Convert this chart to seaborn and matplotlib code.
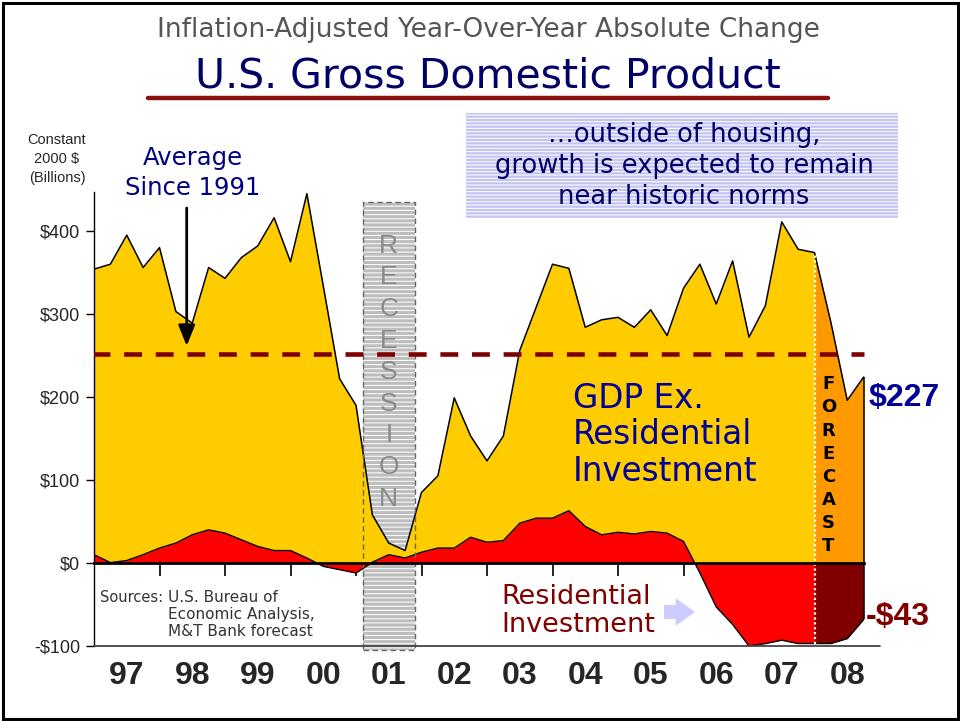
import numpy as np
import matplotlib
matplotlib.use("Agg")
import matplotlib.pyplot as plt
import matplotlib.transforms as mtransforms
from matplotlib.patches import Rectangle
import seaborn as sns

# quarterly values, 1997Q1 .. 2008Q4 (billions of 2000 $)
gdp_ex_ri = [354, 360, 395, 356, 380, 303, 289, 356,
             343, 368, 382, 416, 363, 445, 334, 222,
             190, 58, 24, 15, 85, 105, 199, 153,
             123, 153, 256, 308, 360, 355, 284, 293,
             296, 284, 305, 274, 331, 360, 312, 364,
             272, 310, 411, 378, 374, 290, 196, 224]
res_inv = [10, 0.5, 3, 10, 18, 24, 34, 40,
           36, 28, 20, 15, 15, 6, -4, -8,
           -12, 1, 10, 6, 13, 18, 18, 31,
           25, 27, 48, 54, 54, 63, 44, 34,
           37, 35, 38, 36, 26, -12, -53, -74,
           -100, -97, -93, -97, -97, -97, -91, -68]
years = ['97', '98', '99', '00', '01', '02', '03', '04', '05', '06', '07', '08']
y_ticks = [-100, 0, 100, 200, 300, 400]
y_labels = ['-$100', '$0', '$100', '$200', '$300', '$400']
avg_since_1991 = 252
forecast_start = 44          # 2008Q1
recession = (16.4, 19.6)     # Mar-Nov 2001, in quarters from 1997Q1
end_labels = ['$227', '-$43']

W, H = 960, 721
sns.set_theme(style='white')
plt.rcParams['font.family'] = ['DejaVu Sans']
plt.rcParams['hatch.linewidth'] = 0.75

fig = plt.figure(figsize=(W / 100, H / 100), dpi=100)
ax = fig.add_axes([94 / W, 1 - 646 / H, 786 / W, 454 / H])

q = np.arange(len(gdp_ex_ri))
gdp = np.array(gdp_ex_ri, dtype=float)
ri = np.array(res_inv, dtype=float)
hist = q <= forecast_start
fcst = q >= forecast_start

# recession band (fill behind the areas, dashed frame on top)
rx0, rx1 = recession
ax.add_patch(Rectangle((rx0, -105), rx1 - rx0, 540, facecolor='#BDBDBD',
                       edgecolor='white', hatch='----', lw=0, zorder=0.5,
                       clip_on=False))
ax.add_patch(Rectangle((rx0, -105), rx1 - rx0, 540, fill=False,
                       edgecolor='#666666', linestyle=(0, (4, 2.5)), lw=1,
                       zorder=3, clip_on=False))
ax.text((rx0 + rx1) / 2, 230, '\n'.join('RECESSION'), ha='center', va='center',
        fontsize=19, color='#8a8a8a', family='Liberation Sans',
        linespacing=1.4, zorder=3)

# areas
ax.fill_between(q, 0, gdp, where=hist, color='#FFCC00', lw=0, zorder=1)
ax.fill_between(q, 0, gdp, where=fcst, color='#FF9900', lw=0, zorder=1)
ax.fill_between(q, 0, ri, where=hist, color='#FF0000', lw=0, zorder=2)
ax.fill_between(q, 0, ri, where=fcst, color='#800000', lw=0, zorder=2)
sns.lineplot(x=q, y=gdp, ax=ax, color='black', lw=1.1, zorder=2.5)
sns.lineplot(x=q, y=ri, ax=ax, color='black', lw=1.0, zorder=2.5)
ax.vlines(q[-1], ri[-1], gdp[-1], colors='black', lw=1.1, zorder=2.5)
ax.vlines(forecast_start, ri[forecast_start], gdp[forecast_start], colors='white',
          linestyles=(0, (1, 1.2)), lw=1.6, zorder=2.6)

# average line
avg = ax.hlines(avg_since_1991, q[0] - 0.1, q[-1], colors='#800000', lw=3.3, zorder=4)
avg.set_linestyle((0, (3.9, 3.0)))

ax.set_xlim(0, len(years) * 4)
ax.set_ylim(-100, 447)
ax.set_yticks(y_ticks)
ax.set_yticklabels(y_labels, family='Liberation Sans', fontsize=13)
ax.tick_params(axis='y', direction='out', length=6, width=1, color='black',
               left=True, pad=4)
ax.set_xticks(np.arange(4, len(years) * 4, 4))
ax.set_xticklabels([])
ax.tick_params(axis='x', direction='out', length=9, width=1.2, color='black',
               bottom=True)
for s in ['top', 'right']:
    ax.spines[s].set_visible(False)
ax.spines['left'].set_color('black')
ax.spines['left'].set_linewidth(1)
ax.spines['bottom'].set_position(('data', 0))
ax.spines['bottom'].set_bounds(0, q[-1])
ax.spines['bottom'].set_color('black')
ax.spines['bottom'].set_linewidth(2)
ax.spines['bottom'].set_zorder(3.5)
ax.axhline(-100, color='#444444', lw=1.3, clip_on=False, zorder=3)

trans = mtransforms.blended_transform_factory(ax.transData, ax.transAxes)
for i, yr in enumerate(years):
    ax.text(4 * i + 2, -0.066, yr, transform=trans, ha='center', va='center',
            fontsize=23, fontweight='bold', family='Liberation Sans')


def fx(x):
    return x / W


def fy(y):
    return 1 - y / H


# titles
fig.text(fx(488), fy(30), 'Inflation-Adjusted Year-Over-Year Absolute Change',
         ha='center', va='center', fontsize=19, color='#555555')
fig.text(fx(488), fy(77), 'U.S. Gross Domestic Product', ha='center', va='center',
         fontsize=29.5, color='#000066')
fig.add_artist(plt.Line2D([fx(148), fx(828)], [fy(98), fy(98)], color='#8B1010',
                          lw=3.2, transform=fig.transFigure))

fig.text(fx(57), fy(159), 'Constant\n2000 $\n(Billions)', ha='center', va='center',
         fontsize=10.5, family='Liberation Sans', linespacing=1.45)

# average annotation
fig.text(fx(193), fy(173), 'Average\nSince 1991', ha='center', va='center',
         fontsize=17.5, color='#000080', linespacing=1.3)
ax.annotate('', xy=(186.7, H - 346), xytext=(186.7, H - 208),
            xycoords='figure pixels', textcoords='figure pixels',
            arrowprops=dict(arrowstyle='-|>,head_length=0.45,head_width=0.18',
                            color='black', lw=2.0, mutation_scale=28,
                            shrinkA=0, shrinkB=0), zorder=5)

# striped comment box
fig.add_artist(Rectangle((fx(466), fy(218)), (898 - 466) / W, (218 - 113) / H,
                         transform=fig.transFigure, facecolor='#C4C4F4',
                         edgecolor='white', hatch='-----', lw=0))
fig.text(fx(684), fy(166), '\u2026outside of housing,\ngrowth is expected to remain\nnear historic norms',
         ha='center', va='center', fontsize=18.5, color='#000066', linespacing=1.27)

fig.text(fx(573), fy(435), 'GDP Ex.\nResidential\nInvestment', ha='left', va='center',
         fontsize=23.5, color='#000099', linespacing=1.12)
fig.text(fx(501), fy(611), 'Residential\nInvestment', ha='left', va='center',
         fontsize=19.5, color='#800000', linespacing=1.1)
ax.annotate('', xy=(695, H - 612), xytext=(664, H - 612),
            xycoords='figure pixels', textcoords='figure pixels',
            arrowprops=dict(arrowstyle='simple,head_length=0.7,head_width=1.0,tail_width=0.5',
                            color='#CCCCFF', mutation_scale=20, lw=0,
                            shrinkA=0, shrinkB=0))

ax.text(forecast_start + 0.85, 118, '\n'.join('FORECAST'), ha='center', va='center',
        fontsize=13, fontweight='bold', color='black', linespacing=1.36, zorder=5)

fig.text(fx(869), fy(398), end_labels[0], ha='left', va='center', fontsize=23,
         fontweight='bold', color='#000099', family='Liberation Sans')
fig.text(fx(866), fy(617), end_labels[1], ha='left', va='center', fontsize=23,
         fontweight='bold', color='#800000', family='Liberation Sans')

fig.text(fx(100), fy(590), 'Sources:', ha='left', va='top', fontsize=10.5,
         color='#333333')
fig.text(fx(168), fy(590), 'U.S. Bureau of\nEconomic Analysis,\nM&T Bank forecast',
         ha='left', va='top', fontsize=11, color='#333333', linespacing=1.18)

# outer frame
fig.add_artist(Rectangle((2.5 / W, 2.5 / H), (W - 5) / W, (H - 5) / H,
                         transform=fig.transFigure, fill=False, lw=2.2,
                         edgecolor='black'))

fig.savefig('out.png', dpi=100)
